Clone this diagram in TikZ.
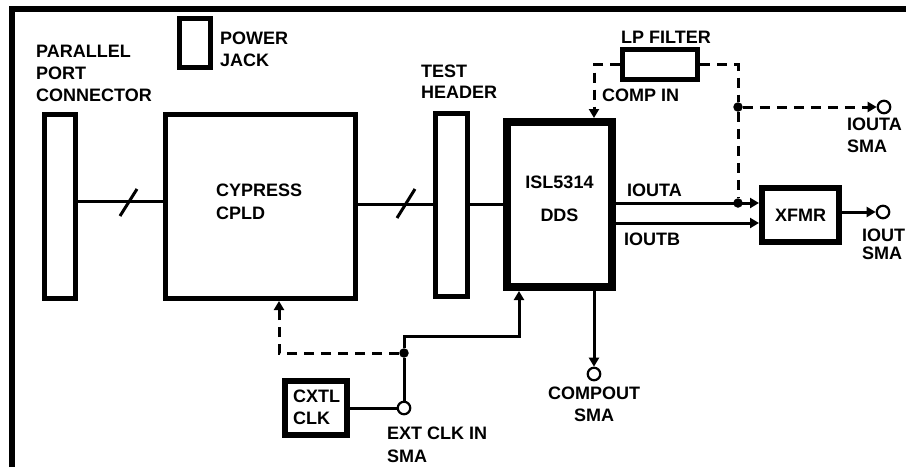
\documentclass[tikz,border=0pt]{standalone}
\usepackage{fontspec}
\setmainfont{Liberation Sans}
\usetikzlibrary{arrows.meta}
\begin{document}
\begin{tikzpicture}[x=1pt,y=-1pt,
  blk/.style={draw,line width=5pt,inner sep=0pt},
  lbl/.style={inner sep=0pt,anchor=north west,align=left,font=\fontsize{18}{22}\selectfont\bfseries},
  clbl/.style={lbl,anchor=north,align=center},
  wire/.style={line width=3pt},
  dashwire/.style={line width=3pt,dash pattern=on 10pt off 7pt},
  tip/.style={-{Triangle[length=9pt,width=10pt]}},
  jdot/.style={circle,fill,inner sep=0pt,minimum size=9.5pt},
  sma/.style={circle,draw,line width=2.2pt,inner sep=0pt,minimum size=12.5pt,fill=white},
]
\useasboundingbox (0,0) rectangle (906,467);
% frame
\draw[line width=6pt] (12,467) -- (12,9) -- (906,9);

% blocks
\node[blk,minimum width=31pt,minimum height=49pt] (pj) at (195,43) {};
\node[blk,minimum width=31pt,minimum height=184pt] (pp) at (60,206.5) {};
\node[blk,minimum width=190pt,minimum height=184pt] (cpld) at (260.5,206.5) {};
\node[blk,minimum width=32pt,minimum height=183pt] (hdr) at (451.5,205) {};
\node[blk,line width=8pt,minimum width=105pt,minimum height=165pt] (dds) at (559.5,204.5) {};
\node[blk,line width=6pt,minimum width=77pt,minimum height=54pt] (xfmr) at (800.5,215) {};
\node[blk,minimum width=75pt,minimum height=30pt] (lpf) at (660,64.5) {};
\node[blk,line width=6pt,minimum width=62pt,minimum height=54pt] (cxtl) at (316,408) {};

% junctions and connectors (SMA)
\node[jdot] (d1) at (738,107) {};
\node[jdot] (d2) at (738,203) {};
\node[jdot] (d3) at (404,353) {};
\node[sma] (c1) at (884,107) {};
\node[sma] (c2) at (883,212) {};
\node[sma] (c3) at (404,408) {};
\node[sma] (c4) at (594,374) {};

% labels
\node[lbl] (tpp) at (36,45) {PARALLEL\\PORT\\CONNECTOR};
\node[lbl] (tpj) at (220,32) {POWER\\JACK};
\node[lbl,font=\fontsize{18}{20.5}\selectfont\bfseries] (thdr) at (421,65) {TEST\\HEADER};
\node[lbl,font=\fontsize{18}{23}\selectfont\bfseries] (tcpld) at (216,184) {CYPRESS\\CPLD};
\node[clbl] (tdds) at (559.5,176) {ISL5314\\[11pt]DDS};
\node[lbl] (tia) at (627,184) {IOUTA};
\node[lbl] (tib) at (624,233) {IOUTB};
\node[lbl] (txf) at (775,209) {XFMR};
\node[lbl] (tlp) at (621,31) {LP FILTER};
\node[lbl] (tci) at (602,89) {COMP IN};
\node[lbl] (tias) at (847,118) {IOUTA\\SMA};
\node[lbl,font=\fontsize{18}{18}\selectfont\bfseries] (tios) at (862,229) {IOUT\\SMA};
\node[lbl] (tcx) at (293,390) {CXTL\\CLK};
\node[lbl,font=\fontsize{18}{23}\selectfont\bfseries] (text) at (387,427) {EXT CLK IN\\SMA};
\node[clbl] (tco) at (594,387) {COMPOUT\\SMA};

% buses
\draw[wire] (pp.east |- 0,201) -- (cpld.west |- 0,201);
\draw[wire] (120,216) -- (137,189);
\draw[wire] (cpld.east |- 0,204) -- (hdr.west |- 0,204);
\draw[wire] (397,218) -- (415,189);
\draw[wire] (hdr.east |- 0,204) -- (dds.west |- 0,204);

% outputs
\draw[wire,tip] (dds.east |- d2) -- (xfmr.west |- d2);
\draw[wire,tip] (dds.east |- 0,223) -- (xfmr.west |- 0,223);
\draw[wire,tip] (xfmr.east |- c2) -- (c2);
\draw[wire,tip] (dds.south -| 594,0) -- (c4);

% filter loop
\draw[dashwire,tip] (lpf.west) -| (594,0 |- dds.north);
\draw[dashwire] (lpf.east) -| (d1);
\draw[dashwire] (d1) -- (d2);
\draw[dashwire,tip] (d1) -- (c1);

% clock
\draw[dashwire,tip] (d3) -| (279,0 |- cpld.south);
\draw[wire,tip] (d3) |- (519,336) -- (519,0 |- dds.south);
\draw[wire] (d3) -- (c3);
\draw[wire] (cxtl.east |- c3) -- (c3);
\end{tikzpicture}
\end{document}
